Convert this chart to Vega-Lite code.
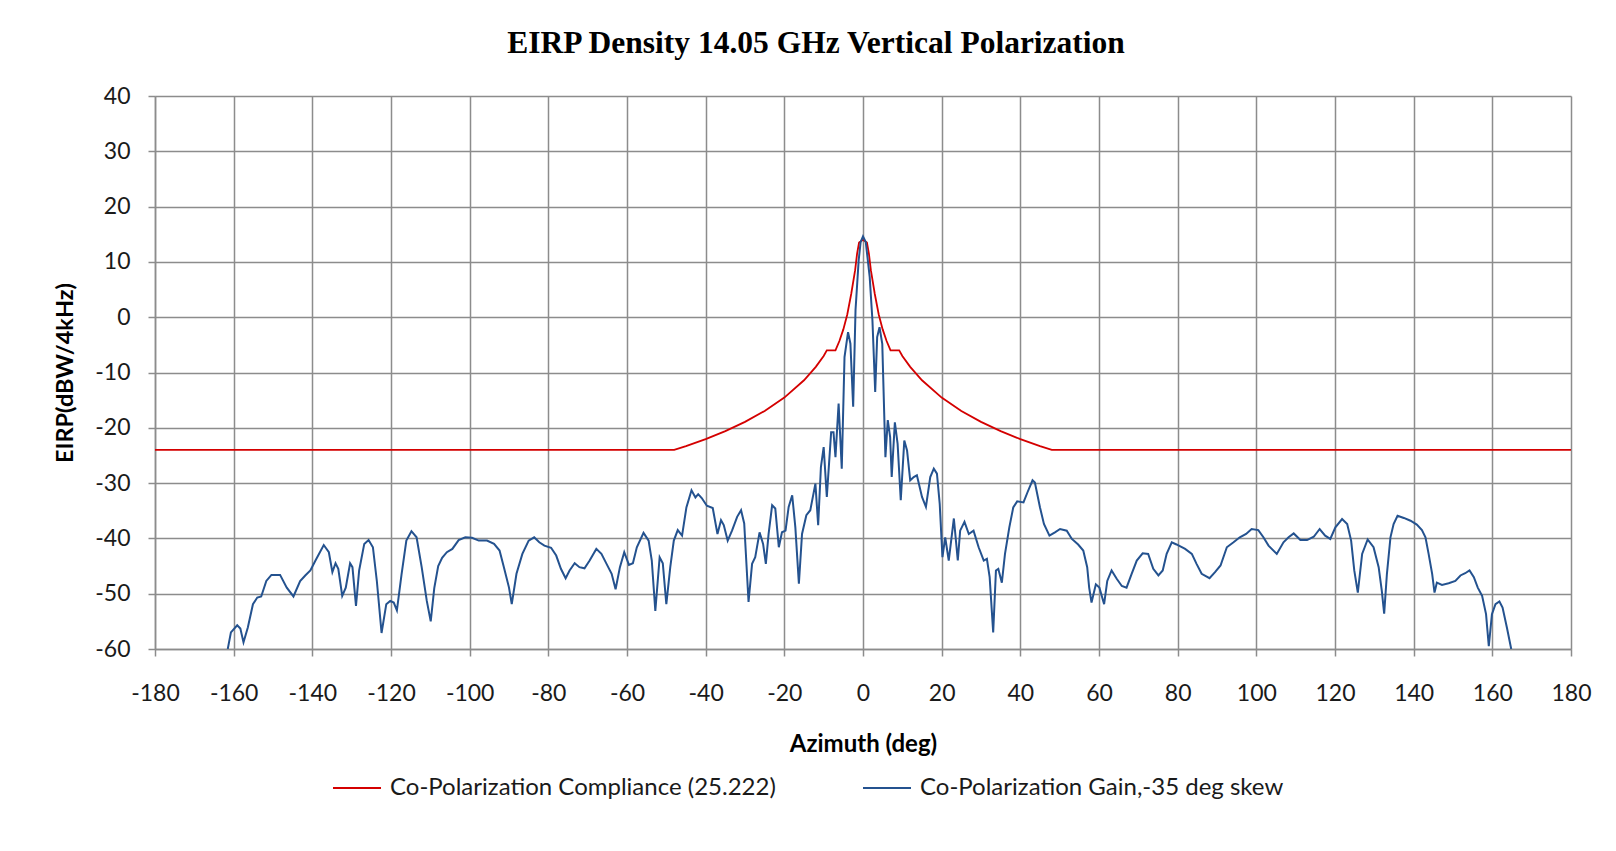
{
  "$schema": "https://vega.github.io/schema/vega-lite/v6.json",
  "autosize": {"type": "none"},
  "padding": {"left": 155, "top": 96, "right": 45, "bottom": 202},
  "width": 1416,
  "height": 553,
  "background": "white",
  "title": {
    "text": "EIRP Density 14.05 GHz Vertical Polarization",
    "font": "Liberation Serif",
    "fontSize": 31.5,
    "fontWeight": "bold",
    "color": "#000000",
    "anchor": "middle",
    "baseline": "alphabetic",
    "offset": 1,
    "dx": -47
  },
  "datasets": {
    "compliance": [
      {"az": -180, "v": -24}, {"az": -48, "v": -24}, {"az": -45, "v": -23.33}, {"az": -40, "v": -22.05},
      {"az": -35, "v": -20.6}, {"az": -30, "v": -18.93}, {"az": -25, "v": -16.95}, {"az": -20, "v": -14.53},
      {"az": -15, "v": -11.4}, {"az": -12, "v": -8.98}, {"az": -10, "v": -7.0}, {"az": -9.2, "v": -6.0},
      {"az": -7, "v": -6.0}, {"az": -6, "v": -4.3}, {"az": -5, "v": -2.2}, {"az": -4, "v": 0.5},
      {"az": -3, "v": 4.2}, {"az": -2, "v": 8.5}, {"az": -1.5, "v": 11.5}, {"az": -1, "v": 13.5},
      {"az": 0, "v": 14},
      {"az": 1, "v": 13.5}, {"az": 1.5, "v": 11.5}, {"az": 2, "v": 8.5}, {"az": 3, "v": 4.2},
      {"az": 4, "v": 0.5}, {"az": 5, "v": -2.2}, {"az": 6, "v": -4.3}, {"az": 7, "v": -6.0},
      {"az": 9.2, "v": -6.0}, {"az": 10, "v": -7.0}, {"az": 12, "v": -8.98}, {"az": 15, "v": -11.4},
      {"az": 20, "v": -14.53}, {"az": 25, "v": -16.95}, {"az": 30, "v": -18.93}, {"az": 35, "v": -20.6},
      {"az": 40, "v": -22.05}, {"az": 45, "v": -23.33}, {"az": 48, "v": -24}, {"az": 180, "v": -24}
    ],
    "gain": [
      {"az": -161.5, "v": -60.0}, {"az": -160.7, "v": -57.0}, {"az": -159.1, "v": -55.7}, {"az": -158.3, "v": -56.3},
      {"az": -157.5, "v": -58.8}, {"az": -156.4, "v": -56.1}, {"az": -155.1, "v": -51.9}, {"az": -154.0, "v": -50.7},
      {"az": -153.0, "v": -50.5}, {"az": -151.7, "v": -47.7}, {"az": -150.4, "v": -46.6}, {"az": -148.2, "v": -46.6},
      {"az": -146.5, "v": -48.9}, {"az": -144.8, "v": -50.5}, {"az": -143.1, "v": -47.7}, {"az": -141.8, "v": -46.7},
      {"az": -140.5, "v": -45.8}, {"az": -139.2, "v": -44.0}, {"az": -137.1, "v": -41.2}, {"az": -135.8, "v": -42.5},
      {"az": -134.9, "v": -46.1}, {"az": -134.1, "v": -44.5}, {"az": -133.4, "v": -45.5}, {"az": -132.4, "v": -50.4},
      {"az": -131.5, "v": -48.9}, {"az": -130.4, "v": -44.5}, {"az": -129.8, "v": -45.2}, {"az": -128.9, "v": -52.2},
      {"az": -128.1, "v": -45.8}, {"az": -126.8, "v": -41.0}, {"az": -125.7, "v": -40.3}, {"az": -124.6, "v": -41.6},
      {"az": -123.6, "v": -47.7}, {"az": -122.4, "v": -57.1}, {"az": -121.2, "v": -51.9}, {"az": -120.2, "v": -51.3},
      {"az": -119.3, "v": -51.6}, {"az": -118.5, "v": -53.0}, {"az": -117.3, "v": -46.4}, {"az": -116.1, "v": -40.4},
      {"az": -114.8, "v": -38.7}, {"az": -113.5, "v": -39.8}, {"az": -112.2, "v": -45.2}, {"az": -110.9, "v": -51.3},
      {"az": -109.9, "v": -55.0}, {"az": -109.0, "v": -49.0}, {"az": -108.0, "v": -45.0}, {"az": -107.0, "v": -43.5},
      {"az": -105.8, "v": -42.5}, {"az": -104.4, "v": -41.9}, {"az": -102.8, "v": -40.3}, {"az": -101.1, "v": -39.8},
      {"az": -99.4, "v": -39.9}, {"az": -97.7, "v": -40.4}, {"az": -95.6, "v": -40.4}, {"az": -93.8, "v": -41.0},
      {"az": -92.4, "v": -42.2}, {"az": -91.3, "v": -45.2}, {"az": -90.0, "v": -48.9}, {"az": -89.3, "v": -51.9},
      {"az": -88.1, "v": -46.4}, {"az": -86.6, "v": -42.8}, {"az": -85.0, "v": -40.4}, {"az": -83.6, "v": -39.8},
      {"az": -82.3, "v": -40.7}, {"az": -81.0, "v": -41.3}, {"az": -79.3, "v": -41.7}, {"az": -78.0, "v": -43.1},
      {"az": -76.8, "v": -45.5}, {"az": -75.6, "v": -47.2}, {"az": -74.6, "v": -45.8}, {"az": -73.3, "v": -44.5},
      {"az": -72.1, "v": -45.2}, {"az": -70.8, "v": -45.4}, {"az": -69.5, "v": -44.0}, {"az": -67.8, "v": -41.9},
      {"az": -66.5, "v": -42.8}, {"az": -65.2, "v": -44.6}, {"az": -63.9, "v": -46.4}, {"az": -62.9, "v": -49.2},
      {"az": -61.8, "v": -45.2}, {"az": -60.7, "v": -42.5}, {"az": -59.5, "v": -44.8}, {"az": -58.5, "v": -44.5},
      {"az": -57.5, "v": -41.6}, {"az": -55.8, "v": -39.0}, {"az": -54.5, "v": -40.4}, {"az": -53.7, "v": -44.0},
      {"az": -52.8, "v": -53.1}, {"az": -51.7, "v": -43.4}, {"az": -50.9, "v": -44.5}, {"az": -50.0, "v": -51.9},
      {"az": -49.0, "v": -45.2}, {"az": -48.1, "v": -40.4}, {"az": -47.1, "v": -38.5}, {"az": -46.0, "v": -39.5},
      {"az": -44.9, "v": -34.4}, {"az": -43.6, "v": -31.3}, {"az": -42.6, "v": -32.6}, {"az": -41.9, "v": -32.0},
      {"az": -41.0, "v": -32.7}, {"az": -39.7, "v": -34.1}, {"az": -38.2, "v": -34.5}, {"az": -37.0, "v": -39.2},
      {"az": -36.1, "v": -36.7}, {"az": -35.4, "v": -37.6}, {"az": -34.4, "v": -40.4}, {"az": -33.3, "v": -38.6},
      {"az": -32.0, "v": -36.1}, {"az": -31.0, "v": -34.9}, {"az": -30.2, "v": -37.3}, {"az": -29.1, "v": -51.5},
      {"az": -28.2, "v": -44.6}, {"az": -27.4, "v": -43.4}, {"az": -26.3, "v": -38.9}, {"az": -25.4, "v": -41.0},
      {"az": -24.7, "v": -44.6}, {"az": -24.0, "v": -39.2}, {"az": -23.1, "v": -34.0}, {"az": -22.3, "v": -34.6},
      {"az": -21.4, "v": -41.6}, {"az": -20.6, "v": -38.9}, {"az": -19.7, "v": -38.6}, {"az": -18.9, "v": -34.3},
      {"az": -18.0, "v": -32.2}, {"az": -17.2, "v": -38.0}, {"az": -16.3, "v": -48.2}, {"az": -15.5, "v": -39.2},
      {"az": -14.4, "v": -35.8}, {"az": -13.4, "v": -34.9}, {"az": -12.1, "v": -30.1}, {"az": -11.4, "v": -37.6},
      {"az": -10.7, "v": -27.1}, {"az": -10.0, "v": -23.5}, {"az": -9.2, "v": -32.5}, {"az": -8.1, "v": -20.8},
      {"az": -7.5, "v": -20.8}, {"az": -7.0, "v": -25.3}, {"az": -6.2, "v": -15.6}, {"az": -5.4, "v": -27.4},
      {"az": -4.7, "v": -7.2}, {"az": -3.8, "v": -2.7}, {"az": -3.2, "v": -4.8}, {"az": -2.5, "v": -16.2},
      {"az": -1.9, "v": 1.3}, {"az": -1.1, "v": 10.3}, {"az": -0.6, "v": 13.6}, {"az": 0.0, "v": 14.6},
      {"az": 0.7, "v": 13.6}, {"az": 1.7, "v": 7.3}, {"az": 2.4, "v": -0.6}, {"az": 3.1, "v": -13.5},
      {"az": 3.6, "v": -3.6}, {"az": 4.2, "v": -1.8}, {"az": 4.9, "v": -4.8}, {"az": 5.7, "v": -25.3},
      {"az": 6.3, "v": -18.6}, {"az": 6.9, "v": -21.7}, {"az": 7.3, "v": -28.9}, {"az": 8.1, "v": -19.0},
      {"az": 8.8, "v": -22.9}, {"az": 9.6, "v": -33.1}, {"az": 10.5, "v": -22.3}, {"az": 11.2, "v": -24.1},
      {"az": 12.0, "v": -29.5}, {"az": 12.9, "v": -28.9}, {"az": 13.7, "v": -28.6}, {"az": 15.0, "v": -32.5},
      {"az": 16.0, "v": -34.3}, {"az": 17.1, "v": -28.9}, {"az": 18.0, "v": -27.4}, {"az": 18.8, "v": -28.3},
      {"az": 19.5, "v": -33.7}, {"az": 20.2, "v": -43.4}, {"az": 20.9, "v": -39.8}, {"az": 21.8, "v": -44.0},
      {"az": 23.1, "v": -36.4}, {"az": 24.1, "v": -44.0}, {"az": 24.7, "v": -38.6}, {"az": 25.8, "v": -37.0},
      {"az": 26.9, "v": -39.2}, {"az": 28.1, "v": -38.6}, {"az": 29.4, "v": -41.6}, {"az": 30.7, "v": -44.0},
      {"az": 31.5, "v": -43.7}, {"az": 32.2, "v": -47.0}, {"az": 33.1, "v": -57.0}, {"az": 33.8, "v": -45.8},
      {"az": 34.4, "v": -45.5}, {"az": 35.3, "v": -48.0}, {"az": 36.1, "v": -42.8}, {"az": 37.2, "v": -38.0},
      {"az": 38.2, "v": -34.4}, {"az": 39.2, "v": -33.3}, {"az": 40.8, "v": -33.5}, {"az": 41.8, "v": -31.7},
      {"az": 43.1, "v": -29.5}, {"az": 43.7, "v": -29.9}, {"az": 45.0, "v": -34.4}, {"az": 46.0, "v": -37.4},
      {"az": 47.4, "v": -39.5}, {"az": 48.8, "v": -38.9}, {"az": 50.1, "v": -38.3}, {"az": 51.8, "v": -38.6},
      {"az": 53.1, "v": -40.1}, {"az": 54.7, "v": -41.1}, {"az": 56.0, "v": -42.2}, {"az": 57.0, "v": -45.2},
      {"az": 57.5, "v": -48.9}, {"az": 58.1, "v": -51.6}, {"az": 59.2, "v": -48.3}, {"az": 60.1, "v": -48.9},
      {"az": 61.3, "v": -51.9}, {"az": 62.1, "v": -47.7}, {"az": 63.2, "v": -45.8}, {"az": 64.5, "v": -47.3},
      {"az": 65.8, "v": -48.6}, {"az": 67.0, "v": -48.9}, {"az": 68.3, "v": -46.4}, {"az": 69.6, "v": -44.0},
      {"az": 71.1, "v": -42.7}, {"az": 72.5, "v": -42.8}, {"az": 73.8, "v": -45.5}, {"az": 75.1, "v": -46.7},
      {"az": 76.2, "v": -45.8}, {"az": 77.2, "v": -42.8}, {"az": 78.5, "v": -40.7}, {"az": 79.7, "v": -41.1},
      {"az": 81.9, "v": -41.9}, {"az": 83.6, "v": -42.8}, {"az": 84.8, "v": -44.6}, {"az": 86.1, "v": -46.4},
      {"az": 88.1, "v": -47.2}, {"az": 89.5, "v": -46.1}, {"az": 90.9, "v": -44.9}, {"az": 92.5, "v": -41.6},
      {"az": 94.2, "v": -40.7}, {"az": 95.8, "v": -39.8}, {"az": 97.4, "v": -39.2}, {"az": 98.8, "v": -38.3},
      {"az": 100.5, "v": -38.5}, {"az": 101.8, "v": -39.8}, {"az": 103.1, "v": -41.3}, {"az": 105.2, "v": -42.8},
      {"az": 106.9, "v": -40.7}, {"az": 108.2, "v": -39.8}, {"az": 109.5, "v": -39.1}, {"az": 111.2, "v": -40.3},
      {"az": 112.9, "v": -40.3}, {"az": 114.6, "v": -39.7}, {"az": 116.1, "v": -38.3}, {"az": 117.5, "v": -39.5},
      {"az": 118.8, "v": -40.1}, {"az": 120.1, "v": -38.0}, {"az": 121.8, "v": -36.5}, {"az": 123.1, "v": -37.4},
      {"az": 124.1, "v": -40.4}, {"az": 124.9, "v": -45.8}, {"az": 125.8, "v": -49.8}, {"az": 126.9, "v": -42.8},
      {"az": 128.3, "v": -40.2}, {"az": 129.8, "v": -41.6}, {"az": 131.1, "v": -45.2}, {"az": 131.9, "v": -49.5},
      {"az": 132.5, "v": -53.6}, {"az": 133.2, "v": -46.4}, {"az": 134.1, "v": -39.8}, {"az": 134.9, "v": -37.4},
      {"az": 135.9, "v": -35.9}, {"az": 137.5, "v": -36.3}, {"az": 139.2, "v": -36.8}, {"az": 140.8, "v": -37.5},
      {"az": 142.1, "v": -38.5}, {"az": 143.0, "v": -39.8}, {"az": 143.8, "v": -42.8}, {"az": 144.7, "v": -46.4},
      {"az": 145.3, "v": -49.8}, {"az": 145.9, "v": -48.0}, {"az": 147.2, "v": -48.4}, {"az": 148.9, "v": -48.1},
      {"az": 150.6, "v": -47.7}, {"az": 151.9, "v": -46.7}, {"az": 153.1, "v": -46.3}, {"az": 154.2, "v": -45.8},
      {"az": 155.3, "v": -47.0}, {"az": 156.3, "v": -48.9}, {"az": 157.4, "v": -50.4}, {"az": 158.4, "v": -53.7},
      {"az": 159.1, "v": -59.5}, {"az": 159.9, "v": -53.7}, {"az": 160.8, "v": -51.9}, {"az": 161.8, "v": -51.4},
      {"az": 162.6, "v": -52.5}, {"az": 163.7, "v": -56.1}, {"az": 164.8, "v": -60.0}
    ]
  },
  "encoding": {
    "x": {
      "field": "az",
      "type": "quantitative",
      "scale": {"domain": [-180, 180], "nice": false, "zero": false},
      "axis": {
        "title": "Azimuth (deg)",
        "values": [-180, -160, -140, -120, -100, -80, -60, -40, -20, 0, 20, 40, 60, 80, 100, 120, 140, 160, 180],
        "labelExpr": "replace(datum.label, '\u2212', '-')",
        "labelPadding": 26,
        "titlePadding": 27,
        "titleFontSize": 24,
        "labelFlush": false,
        "labelOverlap": false
      }
    },
    "y": {
      "field": "v",
      "type": "quantitative",
      "scale": {"domain": [-60, 40], "nice": false, "zero": false},
      "axis": {
        "title": "EIRP(dBW/4kHz)",
        "values": [-60, -50, -40, -30, -20, -10, 0, 10, 20, 30, 40],
        "labelExpr": "replace(datum.label, '\u2212', '-')",
        "labelPadding": 18,
        "titlePadding": 17,
        "titleFontSize": 23.5,
        "labelOverlap": false
      }
    }
  },
  "layer": [
    {
      "data": {"name": "compliance"},
      "mark": {"type": "line", "strokeWidth": 1.8, "clip": true},
      "encoding": {
        "color": {
          "datum": "Co-Polarization Compliance (25.222)",
          "type": "nominal",
          "scale": {
            "domain": ["Co-Polarization Compliance (25.222)", "Co-Polarization Gain,-35 deg skew"],
            "range": ["#d40000", "#24528f"]
          },
          "legend": {
            "orient": "none",
            "legendX": 177,
            "legendY": 667,
            "direction": "horizontal",
            "title": null
          }
        }
      }
    },
    {
      "data": {"name": "gain"},
      "mark": {"type": "line", "strokeWidth": 2, "clip": true},
      "encoding": {
        "color": {"datum": "Co-Polarization Gain,-35 deg skew", "type": "nominal"}
      }
    }
  ],
  "config": {
    "view": {"stroke": null},
    "axis": {
      "labelFont": "Lato",
      "labelFontSize": 23,
      "labelColor": "#1a1a1a",
      "titleFont": "Lato",
      "titleFontSize": 22,
      "titleFontWeight": "bold",
      "titleColor": "#000000",
      "gridColor": "#8c8c8c",
      "gridWidth": 1.5,
      "gridOpacity": 1,
      "domainColor": "#8c8c8c",
      "domainWidth": 1.5,
      "tickColor": "#8c8c8c",
      "tickWidth": 1.5,
      "tickSize": 7
    },
    "legend": {
      "labelFont": "Lato",
      "labelFontSize": 24,
      "labelColor": "#1a1a1a",
      "labelLimit": 1000,
      "symbolType": "stroke",
      "symbolSize": 2304,
      "symbolStrokeWidth": 2,
      "labelOffset": 8,
      "columnPadding": 83,
      "padding": 0
    }
  }
}
